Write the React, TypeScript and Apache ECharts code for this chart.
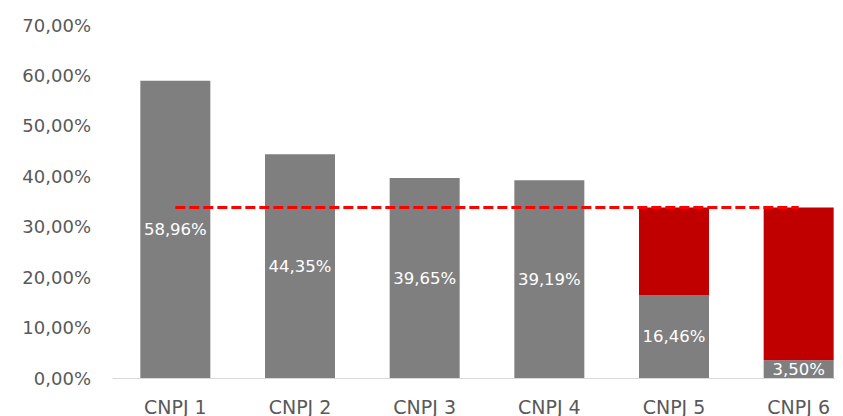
import React, { useEffect, useRef } from "react";
import * as echarts from "echarts";

const categories = ["CNPJ 1", "CNPJ 2", "CNPJ 3", "CNPJ 4", "CNPJ 5", "CNPJ 6"];
const grayValues = [58.96, 44.35, 39.65, 39.19, 16.46, 3.5];
const redValues: (number | string)[] = ["-", "-", "-", "-", 17.34, 30.3];
const thresholdValues = [33.8, 33.8, 33.8, 33.8, 33.8, 33.8];
const yTicks = { min: 0, max: 70, interval: 10 };

const fmt = (v: number) => v.toFixed(2).replace(".", ",") + "%";

export default function App() {
  const ref = useRef<HTMLDivElement>(null);
  useEffect(() => {
    if (!ref.current) return;
    const chart = echarts.init(ref.current, undefined, { renderer: "svg" });
    chart.setOption({
      animation: false,
      backgroundColor: "#ffffff",
      grid: {
        left: 113,
        width: 748,
        top: 25,
        bottom: 38,
        containLabel: false,
        outerBoundsMode: "none",
      },
      xAxis: {
        type: "category",
        data: categories,
        axisLine: { show: true, lineStyle: { color: "#d9d9d9", width: 1 } },
        axisTick: { show: false },
        axisLabel: {
          color: "#595959",
          fontFamily: "DejaVu Sans",
          fontSize: 19,
          margin: 19,
        },
      },
      yAxis: {
        type: "value",
        min: yTicks.min,
        max: yTicks.max,
        interval: yTicks.interval,
        splitLine: { show: false },
        axisLine: { show: false },
        axisTick: { show: false },
        axisLabel: {
          color: "#595959",
          fontFamily: "DejaVu Sans",
          fontSize: 18,
          margin: 22,
          formatter: (v: number) => fmt(v),
        },
      },
      series: [
        {
          type: "bar",
          stack: "a",
          data: grayValues,
          barWidth: 70,
          itemStyle: { color: "#7f7f7f" },
          label: {
            show: true,
            position: "inside",
            color: "#ffffff",
            fontFamily: "DejaVu Sans",
            fontSize: 16.5,
            formatter: (p: any) => fmt(p.value),
          },
        },
        {
          type: "bar",
          stack: "a",
          data: redValues,
          barWidth: 70,
          itemStyle: { color: "#c00000" },
        },
        {
          type: "line",
          data: thresholdValues,
          symbol: "none",
          z: 5,
          lineStyle: { color: "#ff0000", width: 3, type: [10, 4] },
        },
      ],
    });
    return () => chart.dispose();
  }, []);
  return <div ref={ref} style={{ width: 843, height: 416, marginLeft: -8, marginTop: -8 }} />;
}
